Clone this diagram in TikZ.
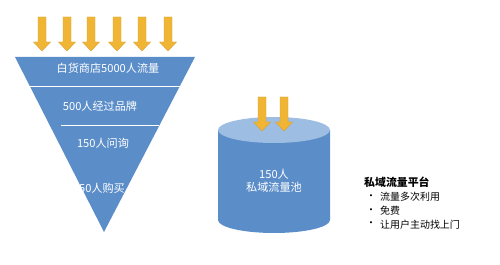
\documentclass[tikz,border=0pt]{standalone}
\usepackage{fontspec}
\setmainfont{Noto Sans CJK SC}
\usetikzlibrary{positioning}

\definecolor{funnelblue}{HTML}{5B8DC9}
\definecolor{pooltop}{HTML}{9DBDE2}
\definecolor{arrowgold}{HTML}{F0B534}
\definecolor{arrowedge}{HTML}{D89E2C}

\begin{document}
\begin{tikzpicture}[
    x=0.03cm, y=-0.03cm,
    band/.style={text=white, font=\fontsize{9.5}{11.5}\selectfont,
                 inner sep=0, align=center},
    note/.style={font=\fontsize{8.5}{11}\selectfont, inner sep=0, anchor=west},
    pics/downarrow/.style={code={
      \fill[arrowgold, draw=arrowedge, line width=0.3pt]
        (-4,0) -- (4,0) -- (4,25) -- (8.5,25) -- (0,34) -- (-8.5,25) -- (-4,25) -- cycle;
    }}
  ]
  \useasboundingbox (0,0) rectangle (500,265);

  % Funnel
  \fill[funnelblue] (15,57) coordinate (ftl) -- (195,57) coordinate (ftr)
    -- (104,232) coordinate (fbot) -- cycle;
  \draw[white, line width=0.6pt] (30,86) -- (180,86);
  \draw[white, line width=0.6pt] (61,125) -- (159,125);

  \node[band] (shop)  at (108,68)  {白货商店5000人流量};
  \node[band] (brand) at (100,106) {500人经过品牌};
  \node[band] (ask)   at (103,143) {150人问询};
  \node[band] (buy)   at (102,188) {50人购买};

  % Incoming traffic
  \foreach \x [count=\i] in {42,67,91,117,142,168} {
    \pic (in\i) at (\x,17) {downarrow};
  }

  % Private pool
  \fill[funnelblue] (218,130) -- (218,220)
    arc[start angle=180, end angle=0, x radius=56, y radius=13]
    -- (330,130) -- cycle;
  \fill[pooltop] (274,130) ellipse [x radius=56, y radius=13];
  \node[band] (pool) at (274,181) {150人\\私域流量池};

  \pic (keep1) at (262,97) {downarrow};
  \pic (keep2) at (284,97) {downarrow};

  % Notes
  \node[note, font=\fontsize{9.3}{11}\selectfont\bfseries] (platform) at (364,182) {私域流量平台};
  \foreach \t [count=\i] in {流量多次利用, 免费, 让用户主动找上门} {
    \node[note] (dot\i) at (366,183.5+13.6*\i) {•};
    \node[note] (item\i) at (380,183.5+13.6*\i) {\t};
  }
\end{tikzpicture}
\end{document}
